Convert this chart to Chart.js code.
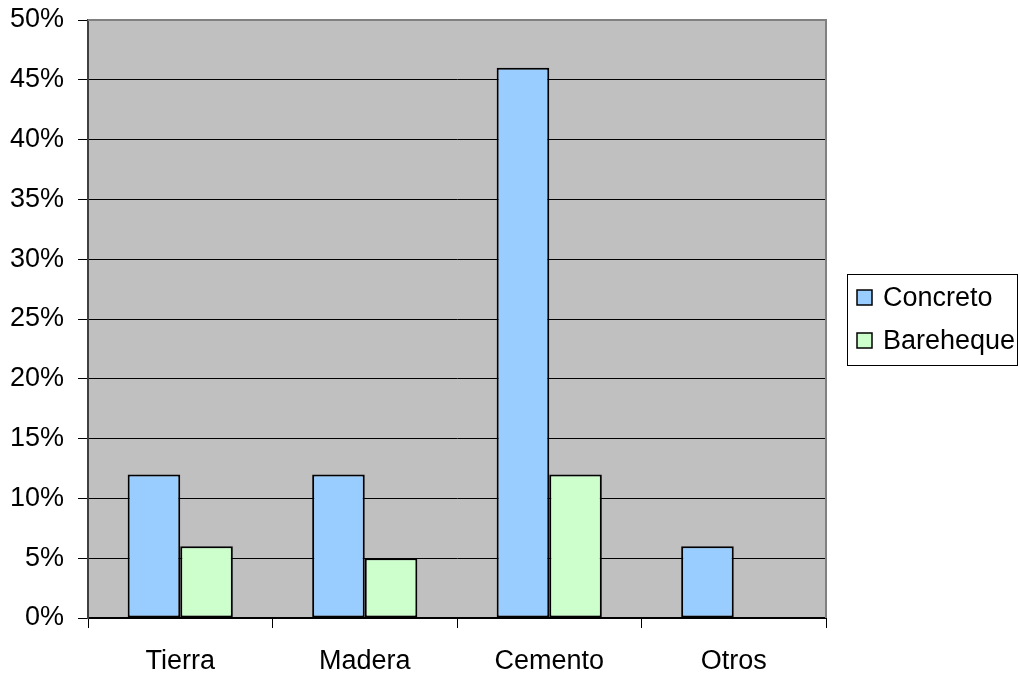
<!DOCTYPE html>
<html>
<head>
<meta charset="utf-8">
<script src="https://cdn.jsdelivr.net/npm/chart.js@4"></script>
<style>
  html, body { margin: 0; padding: 0; background: #fff; }
  #wrap { width: 1020px; height: 675px; }
</style>
</head>
<body>
<div id="wrap"><canvas id="myChart" width="1020" height="675"></canvas></div>
<script>
// data
var categories = ['Tierra', 'Madera', 'Cemento', 'Otros'];
var concreto = [12, 12, 46, 6];
var bareheque = [6, 5, 12, 0];
var seriesNames = ['Concreto', 'Bareheque'];
var seriesColors = ['#99CCFF', '#CCFFCC'];

var FONT = '"Liberation Sans", Arial, sans-serif';

// gray plot background + border, and the boxed legend on the right
var plotDecor = {
  id: 'plotDecor',
  beforeDraw: function (chart) {
    var a = chart.chartArea, c = chart.ctx;
    c.save();
    c.fillStyle = '#C0C0C0';
    c.fillRect(a.left, a.top, a.right - a.left, a.bottom - a.top);
    c.restore();
  },
  afterDatasetsDraw: function (chart) {
    var a = chart.chartArea, c = chart.ctx;
    c.save();
    c.strokeStyle = '#808080';
    c.lineWidth = 2;
    c.beginPath();
    c.moveTo(a.left, a.top);
    c.lineTo(a.right, a.top);
    c.lineTo(a.right, a.bottom);
    c.stroke();

    // legend
    var lx = 847, ly = 274, lw = 170, lh = 91;
    c.fillStyle = '#fff';
    c.fillRect(lx, ly, lw, lh);
    c.strokeStyle = '#000';
    c.lineWidth = 1;
    c.strokeRect(lx + 0.5, ly + 0.5, lw, lh);
    c.font = '27px ' + FONT;
    c.textBaseline = 'middle';
    for (var i = 0; i < seriesNames.length; i++) {
      var cy = ly + 24 + i * 43;
      c.fillStyle = seriesColors[i];
      c.fillRect(857, cy - 8, 15, 15);
      c.strokeStyle = '#000';
      c.lineWidth = 1.5;
      c.strokeRect(857, cy - 8, 15, 15);
      c.fillStyle = '#000';
      c.fillText(seriesNames[i], 883, cy + 1);
    }
    c.restore();
  }
};

var ctx = document.getElementById('myChart').getContext('2d');

var myChart = new Chart(ctx, {
  type: 'bar',
  data: {
    labels: categories,
    datasets: [{
      label: seriesNames[0],
      data: concreto,
      backgroundColor: seriesColors[0],
      borderColor: '#000',
      borderWidth: 2,
      borderSkipped: false,
      barPercentage: 1,
      categoryPercentage: 0.57
    }, {
      label: seriesNames[1],
      data: bareheque,
      backgroundColor: seriesColors[1],
      borderColor: '#000',
      borderWidth: 2,
      borderSkipped: false,
      barPercentage: 1,
      categoryPercentage: 0.57
    }]
  },
  options: {
    responsive: false,
    animation: false,
    layout: { padding: { top: 20, right: 194, left: 0, bottom: 0 } },
    plugins: {
      legend: { display: false },
      tooltip: { enabled: false }
    },
    scales: {
      x: {
        offset: true,
        grid: {
          offset: true,
          drawOnChartArea: false,
          drawTicks: true,
          tickLength: 10,
          color: '#000',
          lineWidth: 1
        },
        border: { color: '#000', width: 2 },
        ticks: {
          color: '#000',
          font: { family: FONT, size: 27 },
          padding: 17
        },
        afterFit: function (s) { s.height = 57; s.paddingLeft = 0; s.paddingRight = 0; }
      },
      y: {
        min: 0,
        max: 50,
        ticks: {
          stepSize: 5,
          color: '#000',
          font: { family: FONT, size: 27 },
          padding: 14,
          callback: function (v) { return v + '%'; }
        },
        grid: {
          color: '#000',
          lineWidth: 1,
          tickLength: 10
        },
        border: { color: '#404040', width: 2 },
        afterFit: function (s) { s.width = 88; s.paddingTop = 0; s.paddingBottom = 0; }
      }
    }
  },
  plugins: [plotDecor]
});
</script>
</body>
</html>
